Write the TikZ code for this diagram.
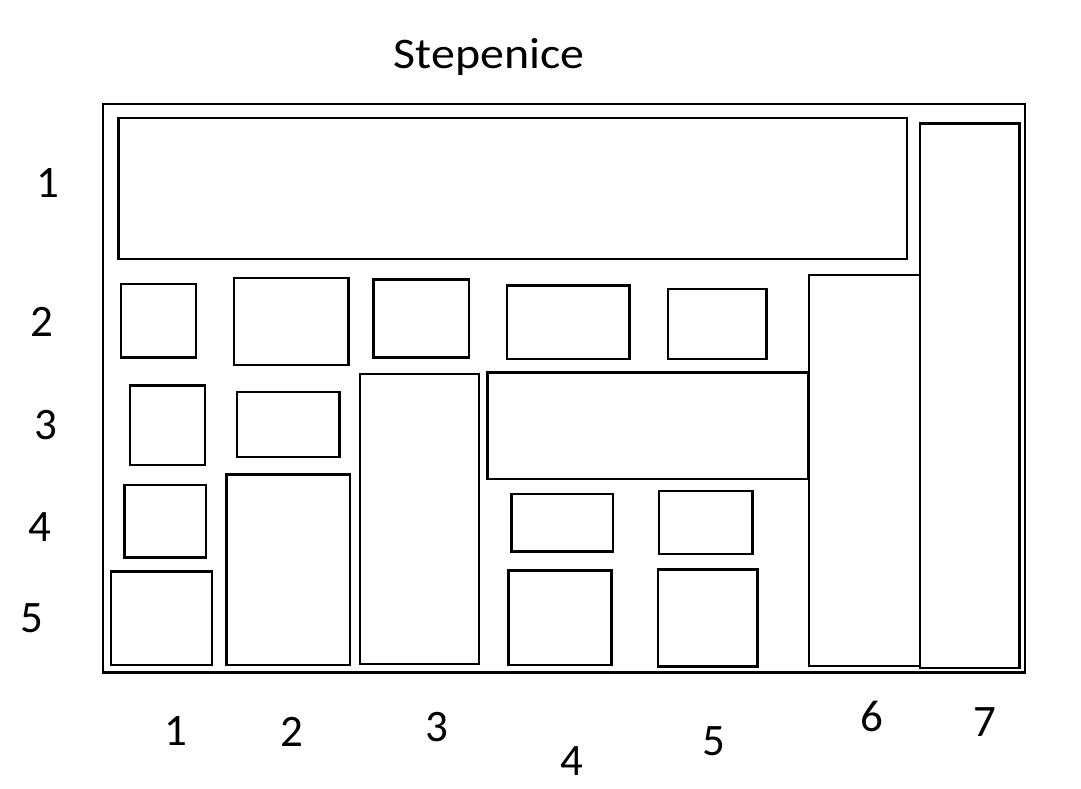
\documentclass[tikz,border=0pt]{standalone}
\usepackage{fontspec}
\setmainfont{Carlito}
\begin{document}
\begin{tikzpicture}[x=1pt,y=-1pt,
  bx/.style={draw=black,line width=2.1pt},
  lbl/.style={font=\fontsize{45}{50}\selectfont,inner sep=0pt},
  ttl/.style={font=\fontsize{42}{48}\selectfont,inner sep=0pt}]
\useasboundingbox (0,0) rectangle (1081,789);
% outer frame
\draw[bx] (103,104) rectangle (1025,672.5);
% row 1
\draw[bx] (118.5,118) rectangle (907,259);
% column 7
\draw[bx] (920,123.5) rectangle (1019.5,668);
% column 6
\draw[bx] (809,275) rectangle (920,666);
% row 2
\draw[bx] (121,284) rectangle (196,357.5);
\draw[bx] (234,278) rectangle (348.5,365);
\draw[bx] (373.5,279.5) rectangle (469,357.5);
\draw[bx] (507,285.5) rectangle (629.5,359);
\draw[bx] (668,289) rectangle (766.5,359);
% row 3
\draw[bx] (130,385.5) rectangle (205,465);
\draw[bx] (237,392) rectangle (339.5,457);
\draw[bx] (360,374) rectangle (479,664);
\draw[bx] (487.5,372.5) rectangle (808,479);
% row 4
\draw[bx] (124.5,485) rectangle (206,557.5);
\draw[bx] (226.5,474.5) rectangle (350,665);
\draw[bx] (511.5,494) rectangle (613,551.5);
\draw[bx] (659,491) rectangle (752.5,554);
% row 5
\draw[bx] (111,571.5) rectangle (212,665);
\draw[bx] (508.5,570.5) rectangle (611.5,665);
\draw[bx] (658,569.5) rectangle (757.5,666.5);
% title
\node[ttl] (title) at (489,57) {\scalebox{1.14}[1.04]{Stepenice}};
% row labels
\node[lbl] (r1) at (48,183) {1};
\node[lbl] (r2) at (42,322) {2};
\node[lbl] (r3) at (46,425) {3};
\node[lbl] (r4) at (40,527) {4};
\node[lbl] (r5) at (32,618) {5};
% column labels
\node[lbl] (c1) at (176,731) {1};
\node[lbl] (c2) at (292,732) {2};
\node[lbl] (c3) at (437,727) {3};
\node[lbl] (c4) at (572,761) {4};
\node[lbl] (c5) at (714,741) {5};
\node[lbl] (c6) at (872,716) {6};
\node[lbl] (c7) at (985,722) {7};
\end{tikzpicture}
\end{document}
